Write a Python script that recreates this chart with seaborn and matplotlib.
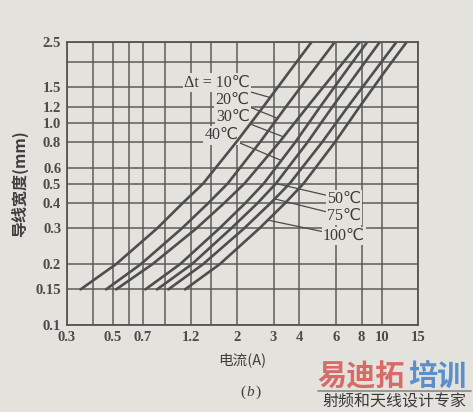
import numpy as np
import pandas as pd
import matplotlib
matplotlib.use("Agg")
import matplotlib.pyplot as plt
import seaborn as sns

# ---------------- data ----------------
widths = [0.15, 0.2, 0.3, 0.4, 0.5, 0.8, 1.2, 1.8, 2.5]          # 导线宽度 (mm)
cur_10 = [0.35, 0.52, 0.82, 1.09, 1.37, 1.98, 2.68, 3.60, 4.58]   # 电流 (A)
cur_20 = [0.465, 0.685, 1.08, 1.45, 1.80, 2.58, 3.45, 4.65, 5.93]
cur_30 = [0.52, 0.78, 1.27, 1.73, 2.17, 3.20, 4.38, 6.03, 7.84]
cur_40 = [0.72, 1.06, 1.64, 2.19, 2.69, 3.82, 5.05, 6.73, 8.51]
cur_50 = [0.82, 1.21, 1.87, 2.51, 3.08, 4.38, 5.79, 7.73, 9.79]
cur_75 = [0.93, 1.37, 2.16, 2.90, 3.59, 5.15, 6.87, 9.25, 11.78]
cur_100 = [1.12, 1.65, 2.56, 3.41, 4.19, 5.94, 7.83, 10.4, 13.2]
delta_t = ["10", "20", "30", "40", "50", "75", "100"]
curves = [cur_10, cur_20, cur_30, cur_40, cur_50, cur_75, cur_100]

x_grid = [0.3, 0.4, 0.5, 0.6, 0.7, 0.9, 1.2, 1.5, 2, 3, 4, 6, 8, 10, 15]
x_labels = ["0.3", "", "0.5", "", "0.7", "", "1.2", "", "2", "3", "4", "6", "8", "10", "15"]
y_grid = [0.1, 0.15, 0.2, 0.3, 0.4, 0.5, 0.6, 0.8, 1.0, 1.2, 1.5, 2.0, 2.5]
y_labels = ["0.1", "0.15", "0.2", "0.3", "0.4", "0.5", "0.6", "0.8", "1.0", "1.2", "1.5", "", "2.5"]

# label anchor widths on each curve (where leader lines touch)
leader_w = [1.33, 1.05, 0.85, 0.65, 0.50, 0.42, 0.33]

df = pd.DataFrame({
    "current": np.concatenate(curves),
    "width": np.tile(widths, len(curves)),
    "dt": np.repeat(delta_t, len(widths)),
})

# ---------------- style ----------------
paper = "#e4e2dc"
ink = "#4e4e4e"
sns.set_theme(style="white")
plt.rcParams["font.family"] = ["Liberation Serif", "Noto Sans CJK SC", "DejaVu Sans"]

fig = plt.figure(figsize=(4.73, 4.12), dpi=100, facecolor=paper)
ax = fig.add_axes([0.141, 0.211, 0.743, 0.687])
ax.set_facecolor(paper)

sns.lineplot(data=df, x="current", y="width", hue="dt", palette=[ink] * 7,
             legend=False, sort=False, estimator=None, linewidth=1.9, ax=ax)

ax.set_xscale("log")
ax.set_yscale("log")
ax.set_xlim(0.3, 15)
ax.set_ylim(0.1, 2.5)

ax.xaxis.set_major_locator(matplotlib.ticker.FixedLocator(x_grid))
ax.xaxis.set_major_formatter(matplotlib.ticker.FixedFormatter(x_labels))
ax.xaxis.set_minor_locator(matplotlib.ticker.NullLocator())
ax.yaxis.set_major_locator(matplotlib.ticker.FixedLocator(y_grid))
ax.yaxis.set_major_formatter(matplotlib.ticker.FixedFormatter(y_labels))
ax.yaxis.set_minor_locator(matplotlib.ticker.NullLocator())

ax.grid(True, which="major", color="#5c5c5c", linewidth=1.1)
ax.set_axisbelow(True)
for s in ax.spines.values():
    s.set_visible(True)
    s.set_color("#555555")
    s.set_linewidth(1.3)
ax.tick_params(axis="both", length=0, colors="#4a4a4a", labelsize=10.5, pad=4)
for t in ax.get_xticklabels() + ax.get_yticklabels():
    t.set_fontweight("bold")

ax.set_xlabel("电流(A)", family=["Noto Sans CJK SC"], fontsize=10.5, color="#3e3e3e", labelpad=6)
ax.set_ylabel("导线宽度(mm)", family=["Noto Sans CJK SC"], fontsize=11.5, color="#3e3e3e",
              fontweight="bold", labelpad=5)

# ---------------- labels with leader lines ----------------
def on_curve(curve, w):
    return float(10 ** np.interp(np.log10(w), np.log10(widths), np.log10(curve)))

txt_kw = dict(fontsize=11.5, color="#3a3a3a", family=["Liberation Serif", "DejaVu Sans"],
              bbox=dict(boxstyle="square,pad=0.08", fc=paper, ec="none"))
arrow_kw = dict(arrowstyle="-", color="#4a4a4a", lw=0.9, shrinkA=0, shrinkB=0)

left_texts = ["Δt = 10℃", "20℃", "30℃", "40℃"]
left_pos = [(2.3, 1.58), (2.3, 1.29), (2.3, 1.062), (2.03, 0.866)]
for i in range(4):
    xe = on_curve(curves[i], leader_w[i])
    ax.annotate(left_texts[i], xy=(xe, leader_w[i]), xytext=left_pos[i],
                ha="right", va="center", arrowprops=arrow_kw, zorder=1, **txt_kw)

right_texts = ["50℃", "75℃", "100℃"]
right_pos = [(5.43, 0.418), (5.43, 0.345), (5.2, 0.275)]
for j in range(3):
    i = 4 + j
    xe = on_curve(curves[i], leader_w[i])
    ax.annotate(right_texts[j], xy=(xe, leader_w[i]), xytext=right_pos[j],
                ha="left", va="center", arrowprops=arrow_kw, zorder=1, **txt_kw)

fig.text(0.52, 0.048, "(", fontsize=11, color="#3e3e3e", family="Liberation Serif", ha="right", va="center")
fig.text(0.52, 0.048, "b", fontsize=11, color="#3e3e3e", family="Liberation Serif", style="italic", ha="left", va="center")
fig.text(0.54, 0.048, ")", fontsize=11, color="#3e3e3e", family="Liberation Serif", ha="left", va="center")

# watermark
fig.text(0.672, 0.087, "易迪拓", fontsize=21, fontweight="bold", color="#d86a68",
         family=["Noto Sans CJK SC"], ha="left", va="center")
fig.text(0.862, 0.087, "培训", fontsize=21, fontweight="bold", color="#5b8fcc",
         family=["Noto Sans CJK SC"], ha="left", va="center")
fig.add_artist(matplotlib.lines.Line2D([0.672, 0.995], [0.051, 0.051], color="#8a8a8a", lw=1.2))
fig.text(0.835, 0.024, "射频和天线设计专家", fontsize=11.5, color="#3a3a3a",
         family=["Noto Sans CJK SC"], ha="center", va="center")

fig.savefig("out.png", dpi=100, facecolor=paper)
